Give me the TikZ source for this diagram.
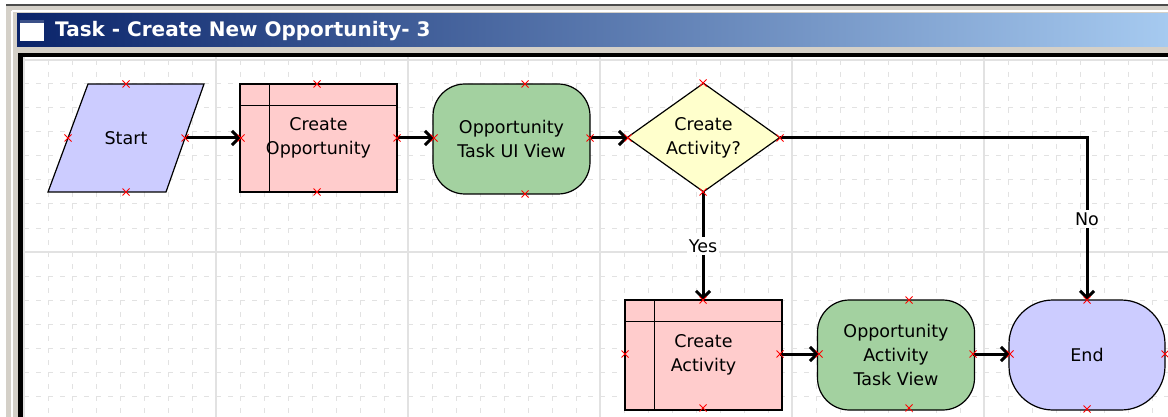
\documentclass[tikz,border=0pt]{standalone}
\usepackage{fontspec}
\setmainfont{DejaVu Sans}
\usetikzlibrary{shapes.geometric,arrows.meta,positioning}

\definecolor{startblue}{HTML}{CCCCFF}
\definecolor{taskpink}{HTML}{FFCCCC}
\definecolor{viewgreen}{HTML}{A3D1A0}
\definecolor{decyellow}{HTML}{FFFFCC}
\definecolor{gridgray}{HTML}{E2E2E2}
\definecolor{framegray}{HTML}{D4D0C8}
\definecolor{titledark}{HTML}{0A246A}
\definecolor{titlelight}{HTML}{A6CAF0}

\tikzset{
    flowtext/.style={font=\fontsize{17.5}{24}\selectfont, align=center, text=black, inner sep=0pt},
    shapeline/.style={draw=black, line width=1.2pt},
    taskbox/.style={flowtext, shapeline, rectangle, fill=taskpink, minimum width=157pt, minimum height=108pt},
    viewbox/.style={flowtext, shapeline, rectangle, rounded corners=32pt, fill=viewgreen, minimum width=157pt, minimum height=110pt},
    decisionbox/.style={flowtext, shapeline, diamond, aspect=1.4, fill=decyellow, minimum width=153pt, minimum height=109pt},
    endbox/.style={flowtext, shapeline, rectangle, rounded corners=44pt, fill=startblue, minimum width=156pt, minimum height=110pt},
    flowline/.style={draw=black, line width=3pt, -{Straight Barb[length=7pt,width=14pt]}},
    lbl/.style={flowtext, fill=white, inner sep=2pt},
    connmark/.pic={\draw[red, line width=0.8pt] (-3.5,-3.5) -- (3.5,3.5) (-3.5,3.5) -- (3.5,-3.5);}
}

\begin{document}
\begin{tikzpicture}[x=1pt, y=-1pt]
    \useasboundingbox (0,0) rectangle (1168,417);

    % window frame
    \fill[white] (0,0) rectangle (1168,417);
    \fill[framegray] (6,4) rectangle (1168,417);
    \draw[black!70, line width=2pt] (6,5) -- (1168,5);
    \draw[white, line width=2pt] (12,11) -- (1168,11) (12,11) -- (12,417);
    \shade[left color=titledark, right color=titlelight] (17,14) rectangle (1168,47);
    \fill[white] (20,20) rectangle (44,41);
    \fill[titledark!80] (20,20) rectangle (44,23);
    \node[anchor=west, text=white, font=\fontsize{20}{22}\bfseries\selectfont, inner sep=0pt] (title) at (55,31) {Task - Create New Opportunity- 3};

    % canvas and grid
    \fill[black] (18,53) rectangle (1168,417);
    \fill[white] (23,57) rectangle (1168,417);
    \begin{scope}
        \clip (23,57) rectangle (1168,417);
        \foreach \k in {0,...,47}
            \draw[gridgray, line width=1pt, dash pattern=on 5pt off 7pt] (24+24*\k,60) -- (24+24*\k,420);
        \foreach \k in {0,...,15}
            \draw[gridgray, line width=1pt, dash pattern=on 5pt off 7pt] (24,60+24*\k) -- (1168,60+24*\k);
        \foreach \k in {0,...,6}
            \draw[gridgray, line width=1.2pt] (24+192*\k,57) -- (24+192*\k,417);
        \foreach \k in {0,1}
            \draw[gridgray, line width=1.2pt] (23,60+192*\k) -- (1168,60+192*\k);
    \end{scope}

    % shapes
    \draw[shapeline, fill=startblue] (88,84) -- (204,84) -- (166,192) -- (48,192) -- cycle;
    \node[flowtext] (start) at (126,138) {Start};

    \node[taskbox] (createopp) at (318.5,138) {Create\\Opportunity};
    \draw[shapeline] ([xshift=30pt]createopp.north west) -- ([xshift=30pt]createopp.south west);
    \draw[shapeline] ([yshift=-22pt]createopp.north west) -- ([yshift=-22pt]createopp.north east);

    \node[viewbox] (uiview) at (511.5,139) {Opportunity\\Task UI View};
    \node[decisionbox] (decide) at (703.5,137.5) {Create\\Activity?};

    \node[taskbox, minimum height=110pt] (createact) at (703.5,355) {Create\\Activity};
    \draw[shapeline] ([xshift=30pt]createact.north west) -- ([xshift=30pt]createact.south west);
    \draw[shapeline] ([yshift=-22pt]createact.north west) -- ([yshift=-22pt]createact.north east);

    \node[viewbox] (actview) at (896,355) {Opportunity\\Activity\\Task View};
    \node[endbox] (finish) at (1087,355) {End};

    % connection points
    \foreach \n/\px/\py in {start-t/126/84, start-b/126/192, start-l/68/138, start-r/185/138,
        createopp-t/317/84, createopp-b/317/192, createopp-l/241/138, createopp-r/397/138,
        uiview-t/525/84, uiview-b/525/194, uiview-l/434/138, uiview-r/590/138,
        decide-t/703/83, decide-b/703/192, decide-l/628/138, decide-r/780/138,
        createact-t/703/300, createact-b/703/408, createact-l/625/354, createact-r/780/354,
        actview-t/909/300, actview-b/909/408, actview-l/819/354, actview-r/973/354,
        finish-t/1087/300, finish-b/1087/409, finish-l/1010/354, finish-r/1165/354}{
        \coordinate (\n) at (\px,\py);
    }

    % connectors
    \draw[flowline] (start-r) -- (createopp-l);
    \draw[flowline] (createopp-r) -- (uiview-l);
    \draw[flowline] (uiview-r) -- (decide-l);
    \draw[flowline] (decide-r) -| node[lbl, pos=0.75] (nolbl) {No} (finish-t);
    \draw[flowline] (decide-b) -- node[lbl, midway] (yeslbl) {Yes} (createact-t);
    \draw[flowline] (createact-r) -- (actview-l);
    \draw[flowline] (actview-r) -- (finish-l);

    \foreach \n in {start,createopp,uiview,decide,createact,actview,finish}
        \foreach \s in {t,b,l,r}
            \pic at (\n-\s) {connmark};
\end{tikzpicture}
\end{document}
